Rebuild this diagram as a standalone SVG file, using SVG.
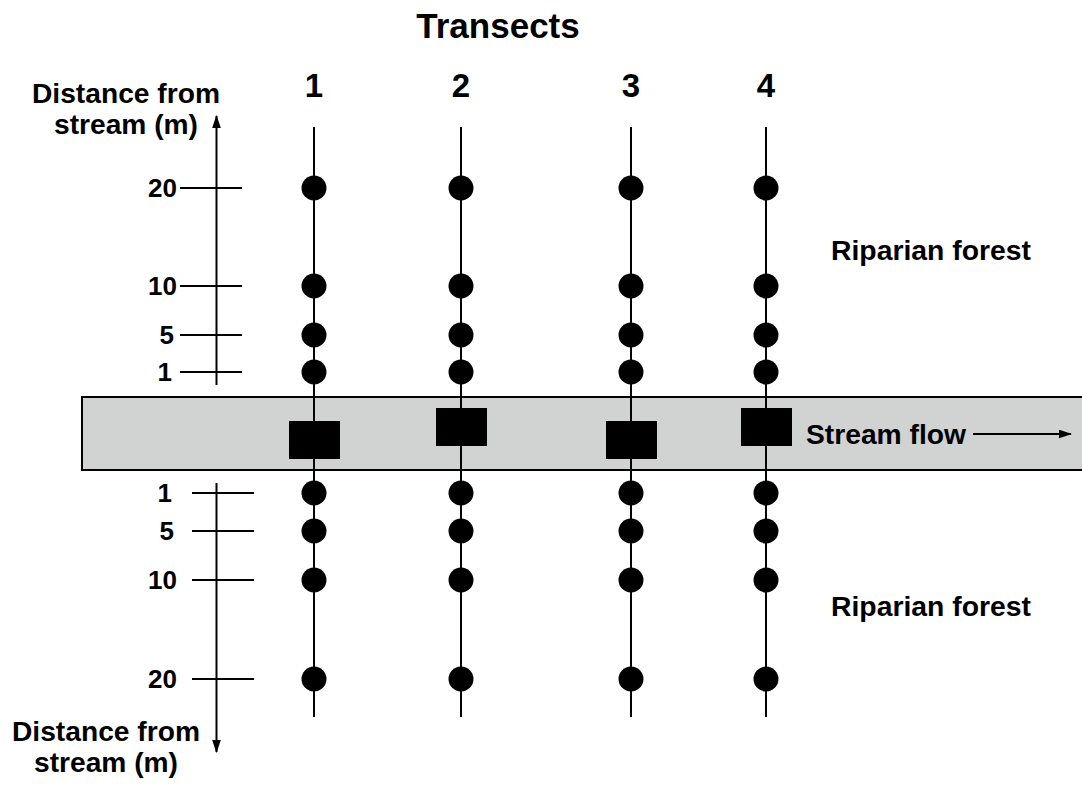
<svg xmlns="http://www.w3.org/2000/svg" width="1082" height="788" viewBox="0 0 1082 788">
  <style>
    text { font-family: "Liberation Sans", Arial, sans-serif; font-weight: bold; fill: #000; }
    .lbl { font-size: 27px; }
    .tick { font-size: 26px; text-anchor: end; }
    .num { font-size: 33px; text-anchor: middle; }
    .ln { stroke: #000; stroke-width: 2; fill: none; }
    .pt { fill: #000; }
  </style>
  <defs>
    <marker id="ah" viewBox="0 0 12 8" refX="11" refY="4" markerWidth="6.5" markerHeight="4.5" orient="auto" markerUnits="strokeWidth">
      <path d="M0,0 L12,4 L0,8 z" fill="#000"/>
    </marker>
  </defs>

  <rect width="1082" height="788" fill="#fff"/>

  <!-- stream channel -->
  <g id="stream">
    <rect x="82" y="397" width="1010" height="73" fill="#d1d3d3" stroke="#000" stroke-width="2"/>
  </g>

  <text x="498" y="38" font-size="35" text-anchor="middle">Transects</text>

  <!-- connectors: transect lines, distance axes and flow arrow -->
  <g id="connectors">
    <line class="ln" x1="314" y1="127" x2="314" y2="717"/>
    <line class="ln" x1="461" y1="127" x2="461" y2="717"/>
    <line class="ln" x1="631" y1="127" x2="631" y2="717"/>
    <line class="ln" x1="766" y1="127" x2="766" y2="717"/>

    <line class="ln" x1="216.5" y1="385" x2="216.5" y2="116" marker-end="url(#ah)"/>
    <line class="ln" x1="216.5" y1="483" x2="216.5" y2="752" marker-end="url(#ah)"/>

    <line class="ln" x1="973" y1="434" x2="1071" y2="434" marker-end="url(#ah)"/>
  </g>

  <!-- distance scale, upstream bank -->
  <g id="scale-top">
    <text class="lbl" x="126" y="103" text-anchor="middle" textLength="188" lengthAdjust="spacingAndGlyphs">Distance from</text>
    <text class="lbl" x="126" y="134" text-anchor="middle" textLength="144" lengthAdjust="spacingAndGlyphs">stream (m)</text>
    <line class="ln" x1="180" y1="188" x2="242" y2="188"/>
    <line class="ln" x1="180" y1="286" x2="242" y2="286"/>
    <line class="ln" x1="180" y1="335" x2="242" y2="335"/>
    <line class="ln" x1="180" y1="372" x2="242" y2="372"/>
    <text class="tick" x="177" y="197">20</text>
    <text class="tick" x="177" y="295">10</text>
    <text class="tick" x="174" y="344">5</text>
    <text class="tick" x="172" y="381">1</text>
  </g>

  <!-- distance scale, downstream bank -->
  <g id="scale-bottom">
    <line class="ln" x1="192" y1="493" x2="254" y2="493"/>
    <line class="ln" x1="192" y1="531" x2="254" y2="531"/>
    <line class="ln" x1="192" y1="580" x2="254" y2="580"/>
    <line class="ln" x1="192" y1="679" x2="254" y2="679"/>
    <text class="tick" x="172" y="502">1</text>
    <text class="tick" x="174" y="540">5</text>
    <text class="tick" x="177" y="589">10</text>
    <text class="tick" x="177" y="688">20</text>
    <text class="lbl" x="106" y="741" text-anchor="middle" textLength="188" lengthAdjust="spacingAndGlyphs">Distance from</text>
    <text class="lbl" x="106" y="772" text-anchor="middle" textLength="144" lengthAdjust="spacingAndGlyphs">stream (m)</text>
  </g>

  <!-- transect 1 -->
  <g id="transect-1">
    <text class="num" x="314" y="97">1</text>
    <circle class="pt" cx="314" cy="188" r="12.5"/>
    <circle class="pt" cx="314" cy="286" r="12.5"/>
    <circle class="pt" cx="314" cy="335" r="12.5"/>
    <circle class="pt" cx="314" cy="372" r="12.5"/>
    <rect class="pt" x="289" y="421" width="51" height="38"/>
    <circle class="pt" cx="314" cy="493" r="12.5"/>
    <circle class="pt" cx="314" cy="531" r="12.5"/>
    <circle class="pt" cx="314" cy="580" r="12.5"/>
    <circle class="pt" cx="314" cy="679" r="12.5"/>
  </g>

  <!-- transect 2 -->
  <g id="transect-2">
    <text class="num" x="461" y="97">2</text>
    <circle class="pt" cx="461" cy="188" r="12.5"/>
    <circle class="pt" cx="461" cy="286" r="12.5"/>
    <circle class="pt" cx="461" cy="335" r="12.5"/>
    <circle class="pt" cx="461" cy="372" r="12.5"/>
    <rect class="pt" x="436" y="408" width="51" height="38"/>
    <circle class="pt" cx="461" cy="493" r="12.5"/>
    <circle class="pt" cx="461" cy="531" r="12.5"/>
    <circle class="pt" cx="461" cy="580" r="12.5"/>
    <circle class="pt" cx="461" cy="679" r="12.5"/>
  </g>

  <!-- transect 3 -->
  <g id="transect-3">
    <text class="num" x="631" y="97">3</text>
    <circle class="pt" cx="631" cy="188" r="12.5"/>
    <circle class="pt" cx="631" cy="286" r="12.5"/>
    <circle class="pt" cx="631" cy="335" r="12.5"/>
    <circle class="pt" cx="631" cy="372" r="12.5"/>
    <rect class="pt" x="606" y="421" width="51" height="38"/>
    <circle class="pt" cx="631" cy="493" r="12.5"/>
    <circle class="pt" cx="631" cy="531" r="12.5"/>
    <circle class="pt" cx="631" cy="580" r="12.5"/>
    <circle class="pt" cx="631" cy="679" r="12.5"/>
  </g>

  <!-- transect 4 -->
  <g id="transect-4">
    <text class="num" x="766" y="97">4</text>
    <circle class="pt" cx="766" cy="188" r="12.5"/>
    <circle class="pt" cx="766" cy="286" r="12.5"/>
    <circle class="pt" cx="766" cy="335" r="12.5"/>
    <circle class="pt" cx="766" cy="372" r="12.5"/>
    <rect class="pt" x="741" y="408" width="51" height="38"/>
    <circle class="pt" cx="766" cy="493" r="12.5"/>
    <circle class="pt" cx="766" cy="531" r="12.5"/>
    <circle class="pt" cx="766" cy="580" r="12.5"/>
    <circle class="pt" cx="766" cy="679" r="12.5"/>
  </g>

  <!-- habitat and flow labels -->
  <g id="labels">
    <text class="lbl" x="831" y="260" textLength="200" lengthAdjust="spacingAndGlyphs">Riparian forest</text>
    <text class="lbl" x="831" y="616" textLength="200" lengthAdjust="spacingAndGlyphs">Riparian forest</text>
    <text class="lbl" x="806" y="444" textLength="160" lengthAdjust="spacingAndGlyphs">Stream flow</text>
  </g>
</svg>
